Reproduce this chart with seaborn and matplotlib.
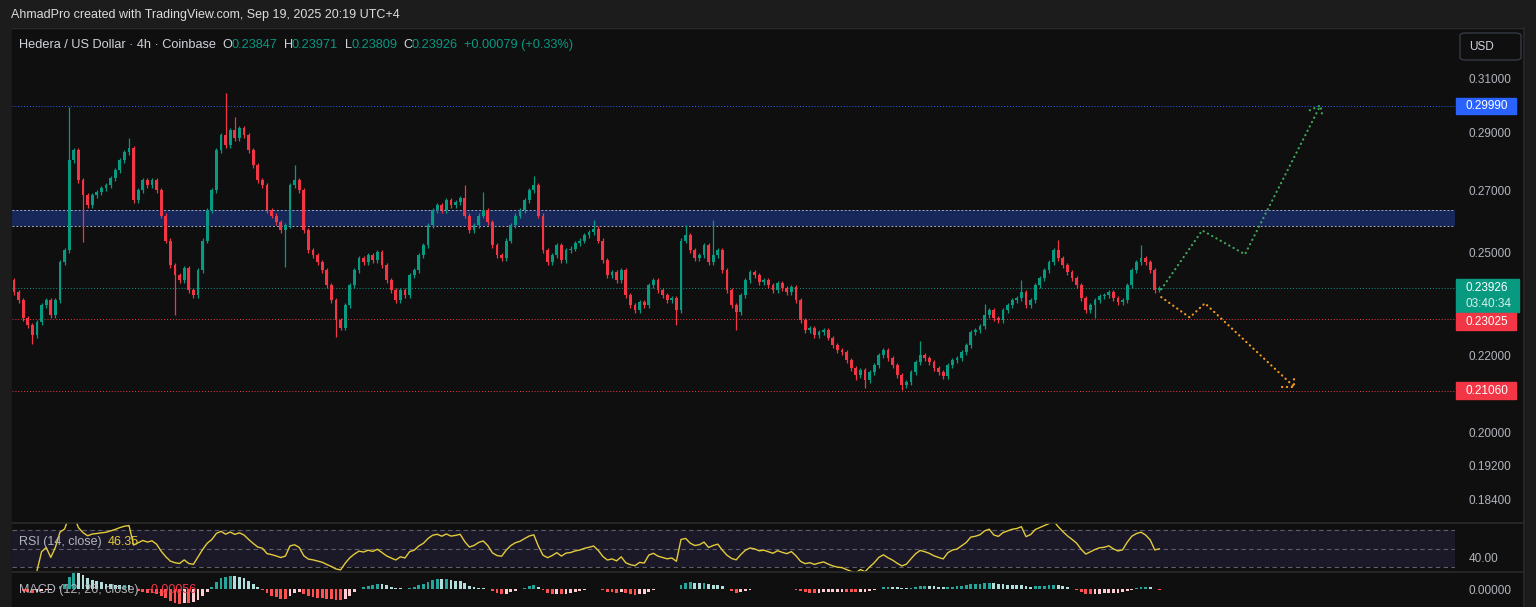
import numpy as np
import pandas as pd
import seaborn as sns
import matplotlib.pyplot as plt
from matplotlib.patches import Rectangle, FancyBboxPatch
from matplotlib.ticker import NullLocator

W, H = 1536, 607

# HBAR/USD 4h closes left to right
closes = [
    0.2379, 0.2356, 0.2304, 0.2284, 0.2256, 0.2292, 0.2341, 0.2356, 0.2312, 0.2356,
    0.2469, 0.2506, 0.2802, 0.2837, 0.2734, 0.2684, 0.2650, 0.2684, 0.2694, 0.2707,
    0.2717, 0.2741, 0.2768, 0.2802, 0.2830, 0.2844, 0.2667, 0.2700, 0.2734, 0.2717,
    0.2734, 0.2700, 0.2617, 0.2537, 0.2460, 0.2430, 0.2415, 0.2451, 0.2385, 0.2370,
    0.2445, 0.2537, 0.2634, 0.2700, 0.2837, 0.2891, 0.2855, 0.2909, 0.2880, 0.2916,
    0.2891, 0.2837, 0.2785, 0.2734, 0.2717, 0.2634, 0.2617, 0.2595, 0.2569, 0.2585,
    0.2717, 0.2734, 0.2700, 0.2569, 0.2506, 0.2491, 0.2469, 0.2445, 0.2400, 0.2356,
    0.2298, 0.2276, 0.2341, 0.2400, 0.2445, 0.2482, 0.2469, 0.2491, 0.2475, 0.2500,
    0.2460, 0.2415, 0.2385, 0.2356, 0.2385, 0.2370, 0.2430, 0.2445, 0.2491, 0.2522,
    0.2585, 0.2634, 0.2650, 0.2634, 0.2667, 0.2650, 0.2660, 0.2674, 0.2617, 0.2569,
    0.2585, 0.2617, 0.2634, 0.2595, 0.2522, 0.2491, 0.2482, 0.2537, 0.2585, 0.2617,
    0.2634, 0.2667, 0.2700, 0.2717, 0.2617, 0.2506, 0.2469, 0.2491, 0.2522, 0.2475,
    0.2506, 0.2512, 0.2528, 0.2537, 0.2553, 0.2563, 0.2575, 0.2537, 0.2475, 0.2430,
    0.2439, 0.2415, 0.2445, 0.2370, 0.2341, 0.2327, 0.2350, 0.2341, 0.2400, 0.2415,
    0.2385, 0.2370, 0.2356, 0.2362, 0.2327, 0.2537, 0.2553, 0.2506, 0.2482, 0.2491,
    0.2522, 0.2469, 0.2491, 0.2506, 0.2445, 0.2385, 0.2341, 0.2321, 0.2370, 0.2415,
    0.2439, 0.2430, 0.2409, 0.2415, 0.2400, 0.2385, 0.2406, 0.2391, 0.2379, 0.2394,
    0.2356, 0.2298, 0.2270, 0.2276, 0.2256, 0.2264, 0.2270, 0.2248, 0.2228, 0.2214,
    0.2209, 0.2187, 0.2165, 0.2146, 0.2160, 0.2133, 0.2154, 0.2173, 0.2200, 0.2214,
    0.2192, 0.2173, 0.2146, 0.2120, 0.2128, 0.2154, 0.2181, 0.2200, 0.2192, 0.2181,
    0.2165, 0.2154, 0.2144, 0.2173, 0.2187, 0.2192, 0.2209, 0.2228, 0.2264, 0.2270,
    0.2281, 0.2312, 0.2327, 0.2304, 0.2298, 0.2327, 0.2341, 0.2356, 0.2362, 0.2379,
    0.2341, 0.2356, 0.2400, 0.2421, 0.2445, 0.2469, 0.2506, 0.2482, 0.2460, 0.2439,
    0.2421, 0.2400, 0.2362, 0.2327, 0.2341, 0.2356, 0.2367, 0.2370, 0.2379, 0.2362,
    0.2350, 0.2356, 0.2400, 0.2445, 0.2469, 0.2482, 0.2469, 0.2445, 0.23847, 0.23926,
]
first_open = 0.2415
last_open, last_high, last_low = 0.23847, 0.23971, 0.23809

# long wicks that stand out on the chart (bar index -> price)
high_wicks = {12: 0.2995, 25: 0.2880, 46: 0.3048, 48: 0.2958, 61: 0.2785,
              98: 0.2717, 102: 0.2694, 113: 0.2750, 126: 0.2601, 146: 0.2585,
              152: 0.2604, 197: 0.2240, 211: 0.2345, 219: 0.2415, 227: 0.2540,
              245: 0.2522}
low_wicks = {4: 0.2230, 15: 0.2531, 35: 0.2312, 59: 0.2454, 70: 0.2250,
             144: 0.2286, 157: 0.2270, 183: 0.2133, 185: 0.2112, 193: 0.2107,
             235: 0.2304}

price_ticks = [0.31, 0.29, 0.27, 0.25, 0.22, 0.20, 0.192, 0.184]

zone_low, zone_high = 0.2584, 0.2634
target_level = 0.2999
support_1 = 0.23025
support_2 = 0.2106
last_price = 0.23926

# drawn scenarios (bar index, price)
bull_x = [249.4, 258.3, 267.6, 284.0]
bull_y = [0.2388, 0.2569, 0.2494, 0.3000]
bear_x = [249.4, 255.6, 258.9, 278.3]
bear_y = [0.2365, 0.2306, 0.2347, 0.2116]

BG = '#0f0f0f'
FRAME = '#1c1c1c'
GREEN = '#089981'
RED = '#f23645'
AXIS_TXT = '#b2b5be'

sns.set_theme(style='dark')
plt.rcParams['font.family'] = ['Liberation Sans', 'DejaVu Sans']

df = pd.DataFrame({'close': closes})
df['bar'] = np.arange(len(df))
df['open'] = df['close'].shift(1).fillna(first_open)
df.loc[df.index[-1], 'open'] = last_open
df['high'] = df[['open', 'close']].max(axis=1) * 1.003
df['low'] = df[['open', 'close']].min(axis=1) * 0.997
for k, v in high_wicks.items():
    df.loc[k, 'high'] = v
for k, v in low_wicks.items():
    df.loc[k, 'low'] = v
df.loc[df.index[-1], 'high'] = last_high
df.loc[df.index[-1], 'low'] = last_low
df['up'] = df['close'] >= df['open']

# RSI 14
delta = df['close'].diff()
gain = delta.clip(lower=0).ewm(alpha=1 / 14, adjust=True, min_periods=5).mean()
loss = (-delta.clip(upper=0)).ewm(alpha=1 / 14, adjust=True, min_periods=5).mean()
df['rsi'] = 100 - 100 / (1 + gain / loss)

# MACD 12 26 9
ema_f = df['close'].ewm(span=12, adjust=False).mean()
ema_s = df['close'].ewm(span=26, adjust=False).mean()
macd = ema_f - ema_s
signal = macd.ewm(span=9, adjust=False).mean()
df['hist'] = macd - signal
prev = df['hist'].shift(1).fillna(0)
df['hcol'] = np.where(df['hist'] >= 0,
                      np.where(df['hist'] > prev, '#26a69a', '#b2dfdb'),
                      np.where(df['hist'] < prev, '#ff5252', '#ffcdd2'))

fig = plt.figure(figsize=(W / 100, H / 100), dpi=100, facecolor=FRAME)


def px_axes(x0, y0, x1, y1):
    return fig.add_axes([x0 / W, 1 - y1 / H, (x1 - x0) / W, (y1 - y0) / H])


def fx(x):
    return x / W


def fy(y):
    return 1 - y / H


# chart background
fig.patches.append(Rectangle((fx(12), fy(607)), fx(1524) - fx(12), fy(28) - fy(607),
                             transform=fig.transFigure, color=BG, zorder=-10))

x_left = (12 - 14) / 4.6
x_right = (1455 - 14) / 4.6

# ---- price pane ----
ax = px_axes(12, 28, 1455, 523)
ax.set_facecolor(BG)
ax.set_yscale('log')
ax.set_xlim(x_left, x_right)
ax.set_ylim(0.31 * np.exp((79 - 523) / 806), 0.31 * np.exp((79 - 28) / 806))
ax.grid(False)
for s in ax.spines.values():
    s.set_visible(False)

ax.axhspan(zone_low, zone_high, color='#17275a', zorder=1, lw=0)
for lv in (zone_low, zone_high):
    ax.axhline(lv, color='#a3abc6', lw=0.7, ls=(0, (2, 2)), zorder=1)
ax.axhline(target_level, color='#2962ff', lw=0.7, ls=(0, (1, 2)), zorder=1)
ax.axhline(last_price, color=GREEN, lw=0.7, ls=(0, (1, 2)), zorder=1)
ax.axhline(support_1, color=RED, lw=0.7, ls=(0, (1, 2)), zorder=1)
ax.axhline(support_2, color=RED, lw=0.7, ls=(0, (1, 2)), zorder=1)

cols = np.where(df['up'], GREEN, RED)
ax.vlines(df['bar'], df['low'], df['high'], colors=cols, lw=0.9, zorder=3)
body = np.maximum((df['close'] - df['open']).abs(), 0.00025)
ax.bar(df['bar'], body, bottom=df[['open', 'close']].min(axis=1), width=0.64,
       color=cols, lw=0, zorder=4)

dot = dict(lw=1.6, ls=(0, (0.1, 2.1)), dash_capstyle='round', zorder=5)
ax.plot(bull_x, bull_y, color='#3fa65a', **dot)
ax.plot(bear_x, bear_y, color='#f59a23', **dot)
# arrow heads
ax.plot([bull_x[-1] - 2.3, bull_x[-1], bull_x[-1] + 0.5],
        [bull_y[-1] * 0.994, bull_y[-1], bull_y[-1] * 0.985], color='#3fa65a', **dot)
ax.plot([bear_x[-1] - 2.6, bear_x[-1], bear_x[-1]],
        [bear_y[-1], bear_y[-1], bear_y[-1] * 1.012], color='#f59a23', **dot)

ax.set_yticks(price_ticks)
ax.set_yticklabels([f'{t:.5f}' for t in price_ticks])
ax.yaxis.set_minor_locator(NullLocator())
ax.yaxis.tick_right()
ax.tick_params(axis='y', length=0, pad=10, labelcolor=AXIS_TXT, labelsize=8.5)
ax.set_xticks([])

# ---- RSI pane ----
ax_r = px_axes(12, 523, 1455, 572)
ax_r.set_facecolor(BG)
ax_r.set_xlim(x_left, x_right)
ax_r.set_ylim(30 - 5 / 0.925, 70 + 7 / 0.925)
ax_r.axhspan(30, 70, color='#1b1828', lw=0)
for lv in (70, 50, 30):
    ax_r.axhline(lv, color='#5d606b', lw=0.8, ls=(0, (4, 3)))
sns.lineplot(x=df['bar'], y=df['rsi'], ax=ax_r, color='#e3cb3b', lw=1.0)
ax_r.set_xlabel('')
ax_r.set_ylabel('')
ax_r.set_xticks([])
ax_r.set_yticks([40])
ax_r.set_yticklabels(['40.00'])
ax_r.yaxis.tick_right()
ax_r.tick_params(axis='y', length=0, pad=10, labelcolor=AXIS_TXT, labelsize=8.5)
ax_r.grid(False)
for s in ax_r.spines.values():
    s.set_visible(False)

# ---- MACD pane ----
ax_m = px_axes(12, 572, 1455, 607)
ax_m.set_facecolor(BG)
ax_m.set_xlim(x_left, x_right)
hmax = df['hist'].abs().max()
scale = 16 / hmax
ax_m.set_ylim(-(607 - 589) / scale, (589 - 572) / scale)
ax_m.bar(df['bar'], df['hist'], width=0.64, color=df['hcol'], lw=0)
ax_m.set_xticks([])
ax_m.set_yticks([0])
ax_m.set_yticklabels(['0.00000'])
ax_m.yaxis.tick_right()
ax_m.tick_params(axis='y', length=0, pad=10, labelcolor=AXIS_TXT, labelsize=8.5)
ax_m.grid(False)
for s in ax_m.spines.values():
    s.set_visible(False)

# pane separators and right border
for yy in (523, 572):
    fig.add_artist(plt.Line2D([fx(12), fx(1524)], [fy(yy), fy(yy)], color='#2a2a2a', lw=1.2))
fig.add_artist(plt.Line2D([fx(1524), fx(1524)], [fy(28), fy(607)], color='#2a2a2a', lw=1.2))
fig.add_artist(plt.Line2D([fx(12), fx(1524)], [fy(28), fy(28)], color='#2a2a2a', lw=1.0))

# ---- texts ----
fig.text(fx(11), fy(15), 'AhmadPro created with TradingView.com, Sep 19, 2025 20:19 UTC+4',
         color='#dcdcdc', fontsize=9, va='center')
fig.text(fx(19), fy(45), 'Hedera / US Dollar · 4h · Coinbase', color='#d1d4dc', fontsize=9.2, va='center')
for lab, xl, val, xv in [('O', 222, '0.23847', 231), ('H', 284, '0.23971', 292),
                         ('L', 345, '0.23809', 352), ('C', 403, '0.23926', 412)]:
    fig.text(fx(xl), fy(45), lab, color='#d1d4dc', fontsize=9.2, va='center')
    fig.text(fx(xv), fy(45), val, color=GREEN, fontsize=9.2, va='center')
fig.text(fx(464), fy(45), '+0.00079 (+0.33%)', color=GREEN, fontsize=9.2, va='center')

fig.text(fx(19), fy(542), 'RSI (14, close)', color=AXIS_TXT, fontsize=9, va='center')
fig.text(fx(108), fy(542), '46.35', color='#e3cb3b', fontsize=9, va='center')
fig.text(fx(19), fy(590), 'MACD (12, 26, close)', color=AXIS_TXT, fontsize=9, va='center')
fig.text(fx(147), fy(590), '-0.00056', color=RED, fontsize=9, va='center')

# USD button
fig.patches.append(FancyBboxPatch((fx(1460), fy(60)), fx(1521) - fx(1460), fy(33) - fy(60),
                                  boxstyle='round,pad=0,rounding_size=0.004',
                                  transform=fig.transFigure, facecolor=BG,
                                  edgecolor='#363a45', lw=1))
fig.text(fx(1469), fy(46.5), 'USD', color='#d1d4dc', fontsize=8.5, va='center')

# price tags on the axis
tags = [(98, 114, 1516, '#2962ff', ['0.29990']),
        (279, 312, 1519, GREEN, ['0.23926', '03:40:34']),
        (313, 330, 1516, RED, ['0.23025']),
        (382, 399, 1516, RED, ['0.21060'])]
for y0, y1, x1, c, lines in tags:
    fig.patches.append(Rectangle((fx(1456), fy(y1)), fx(x1) - fx(1456), fy(y0) - fy(y1),
                                 transform=fig.transFigure, color=c, zorder=5))
    if len(lines) == 1:
        fig.text(fx(1465), fy((y0 + y1) / 2), lines[0], color='white', fontsize=8.5,
                 va='center', zorder=6)
    else:
        fig.text(fx(1465), fy(y0 + 9), lines[0], color='white', fontsize=8.5, va='center', zorder=6)
        fig.text(fx(1465), fy(y0 + 25), lines[1], color='#d8f0ea', fontsize=8.5, va='center', zorder=6)

fig.savefig('out.png', dpi=100, facecolor=FRAME)
